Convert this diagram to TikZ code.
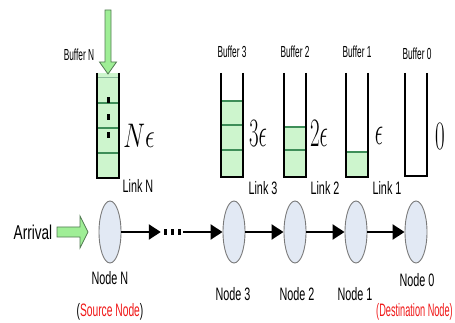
\documentclass[tikz,border=0pt]{standalone}
\usepackage{fontspec}
\setmainfont{Liberation Sans}
\usetikzlibrary{arrows.meta,shapes.geometric}

% condensed sans label: size, horizontal squeeze, text
\newcommand{\sq}[3]{\scalebox{#2}[1]{\fontsize{#1}{#1}\selectfont #3}}
% large math label built on \Huge and scaled
\newcommand{\mq}[3]{\scalebox{#1}[#2]{\Huge$#3$}}

\definecolor{nodefill}{HTML}{E2E9F4}
\definecolor{nodeedge}{HTML}{7A7A7A}
\definecolor{cellgreen}{HTML}{CDF5CD}
\definecolor{celledge}{HTML}{3E8E58}
\definecolor{arrowgreen}{HTML}{9FEE96}
\definecolor{arrowedge}{HTML}{527A52}
\definecolor{srcred}{HTML}{F01818}

\begin{document}
\begin{tikzpicture}[x=1pt,y=-1pt,
  netnode/.style={ellipse, draw=nodeedge, fill=nodefill, line width=0.9pt,
    minimum width=22pt, minimum height=62pt, inner sep=0pt},
  link/.style={line width=2.2pt, -{Triangle[length=12pt,width=15pt]}},
  lbl/.style={inner sep=0pt},
  wall/.style={line width=1.6pt, black},
  cell/.style={fill=cellgreen, draw=celledge, line width=1.3pt},
  bigarrow/.style={fill=arrowgreen, draw=arrowedge, line width=0.8pt, line join=miter}
]
\useasboundingbox (0,0) rectangle (455,323);

% ---------- buffers ----------
% Buffer N: full stack of cells
\fill[cellgreen] (97,73) rectangle (119,178);
\draw[celledge!60, line width=1pt] (97,78) -- (119,78);
\foreach \y in {103,128,153} \draw[celledge, line width=1.3pt] (97,\y) -- (119,\y);
\foreach \y in {100,117,135} \fill (106.5,\y-3) rectangle (109.5,\y+3);

% Buffer 3: three cells
\foreach \a/\b in {101/125,125/150,150/177} \draw[cell] (221,\a) rectangle (243,\b);
% Buffer 2: two cells
\foreach \a/\b in {127/150,150/177} \draw[cell] (284,\a) rectangle (306,\b);
% Buffer 1: one cell
\draw[cell] (346,152) rectangle (368,177);

% buffer walls
\foreach \cx/\bot in {108/178,232/177,295/177,357/177,416/176}{
  \draw[wall] (\cx-11,73) -- (\cx-11,\bot);
  \draw[wall] (\cx+11,73) -- (\cx+11,\bot);
  \draw[black, line width=2.6pt] (\cx-11.8,\bot) -- (\cx+11.8,\bot);
}

% incoming arrow into buffer N
\draw[bigarrow] (105,10) -- (111,10) -- (111,62) -- (116.5,62) -- (108,74)
  -- (99.5,62) -- (105,62) -- cycle;

% buffer labels
\node[lbl] (bN) at (79,55) {\sq{16}{0.52}{Buffer N}};
\node[lbl] (b3) at (232,52) {\sq{16}{0.52}{Buffer 3}};
\node[lbl] (b2) at (295,52) {\sq{16}{0.52}{Buffer 2}};
\node[lbl] (b1) at (357,52) {\sq{16}{0.52}{Buffer 1}};
\node[lbl] (b0) at (417,54) {\sq{16}{0.52}{Buffer 0}};

% backlog values
\node[lbl] (qN) at (139,136) {\mq{0.98}{1.37}{N\epsilon}};
\node[lbl] (q3) at (258,134) {\mq{0.84}{1.62}{3\epsilon}};
\node[lbl] (q2) at (319,134) {\mq{0.84}{1.62}{2\epsilon}};
\node[lbl] (q1) at (379,136) {\mq{0.84}{1.62}{\epsilon}};
\node[lbl] (q0) at (440,137) {\mq{0.84}{1.62}{0}};

% link labels
\node[lbl] (lN) at (138,186) {\sq{18}{0.6}{Link N}};
\node[lbl] (l3) at (263,188) {\sq{18}{0.6}{Link 3}};
\node[lbl] (l2) at (325,188) {\sq{18}{0.6}{Link 2}};
\node[lbl] (l1) at (387,188) {\sq{18}{0.6}{Link 1}};

% ---------- network ----------
\node[netnode] (nN) at (110,232) {};
\node[netnode] (n3) at (234,232) {};
\node[netnode] (n2) at (295,232) {};
\node[netnode] (n1) at (356,232) {};
\node[netnode] (n0) at (416,232) {};
\node[inner sep=0pt, minimum width=22pt, minimum height=6pt] (gap) at (172,232) {};
\foreach \x in {165,172,179} \fill (\x-1.5,229) rectangle (\x+1.5,235);

\draw[link] (nN) -- (gap.west);
\draw[link] (gap.east) -- (n3);
\draw[link] (n3) -- (n2);
\draw[link] (n2) -- (n1);
\draw[link] (n1) -- (n0);

% arrival
\node[lbl] (arr) at (33,232) {\sq{20}{0.68}{Arrival}};
\draw[bigarrow] (57,227) -- (80,227) -- (80,216) -- (88,232) -- (80,248)
  -- (80,237) -- (57,237) -- cycle;

% node labels
\node[lbl] (tN) at (110,278) {\sq{18}{0.6}{Node N}};
\node[lbl] (t3) at (233,294) {\sq{18}{0.6}{Node 3}};
\node[lbl] (t2) at (297,294) {\sq{18}{0.6}{Node 2}};
\node[lbl] (t1) at (355,294) {\sq{18}{0.6}{Node 1}};
\node[lbl] (t0) at (417,280) {\sq{18}{0.6}{Node 0}};
\node[lbl] (src) at (110,312) {\sq{18}{0.57}{(\textcolor{srcred}{Source Node})}};
\node[lbl] (dst) at (414.5,312) {\sq{18}{0.51}{\textcolor{srcred}{(Destination Node)}}};
\end{tikzpicture}
\end{document}
